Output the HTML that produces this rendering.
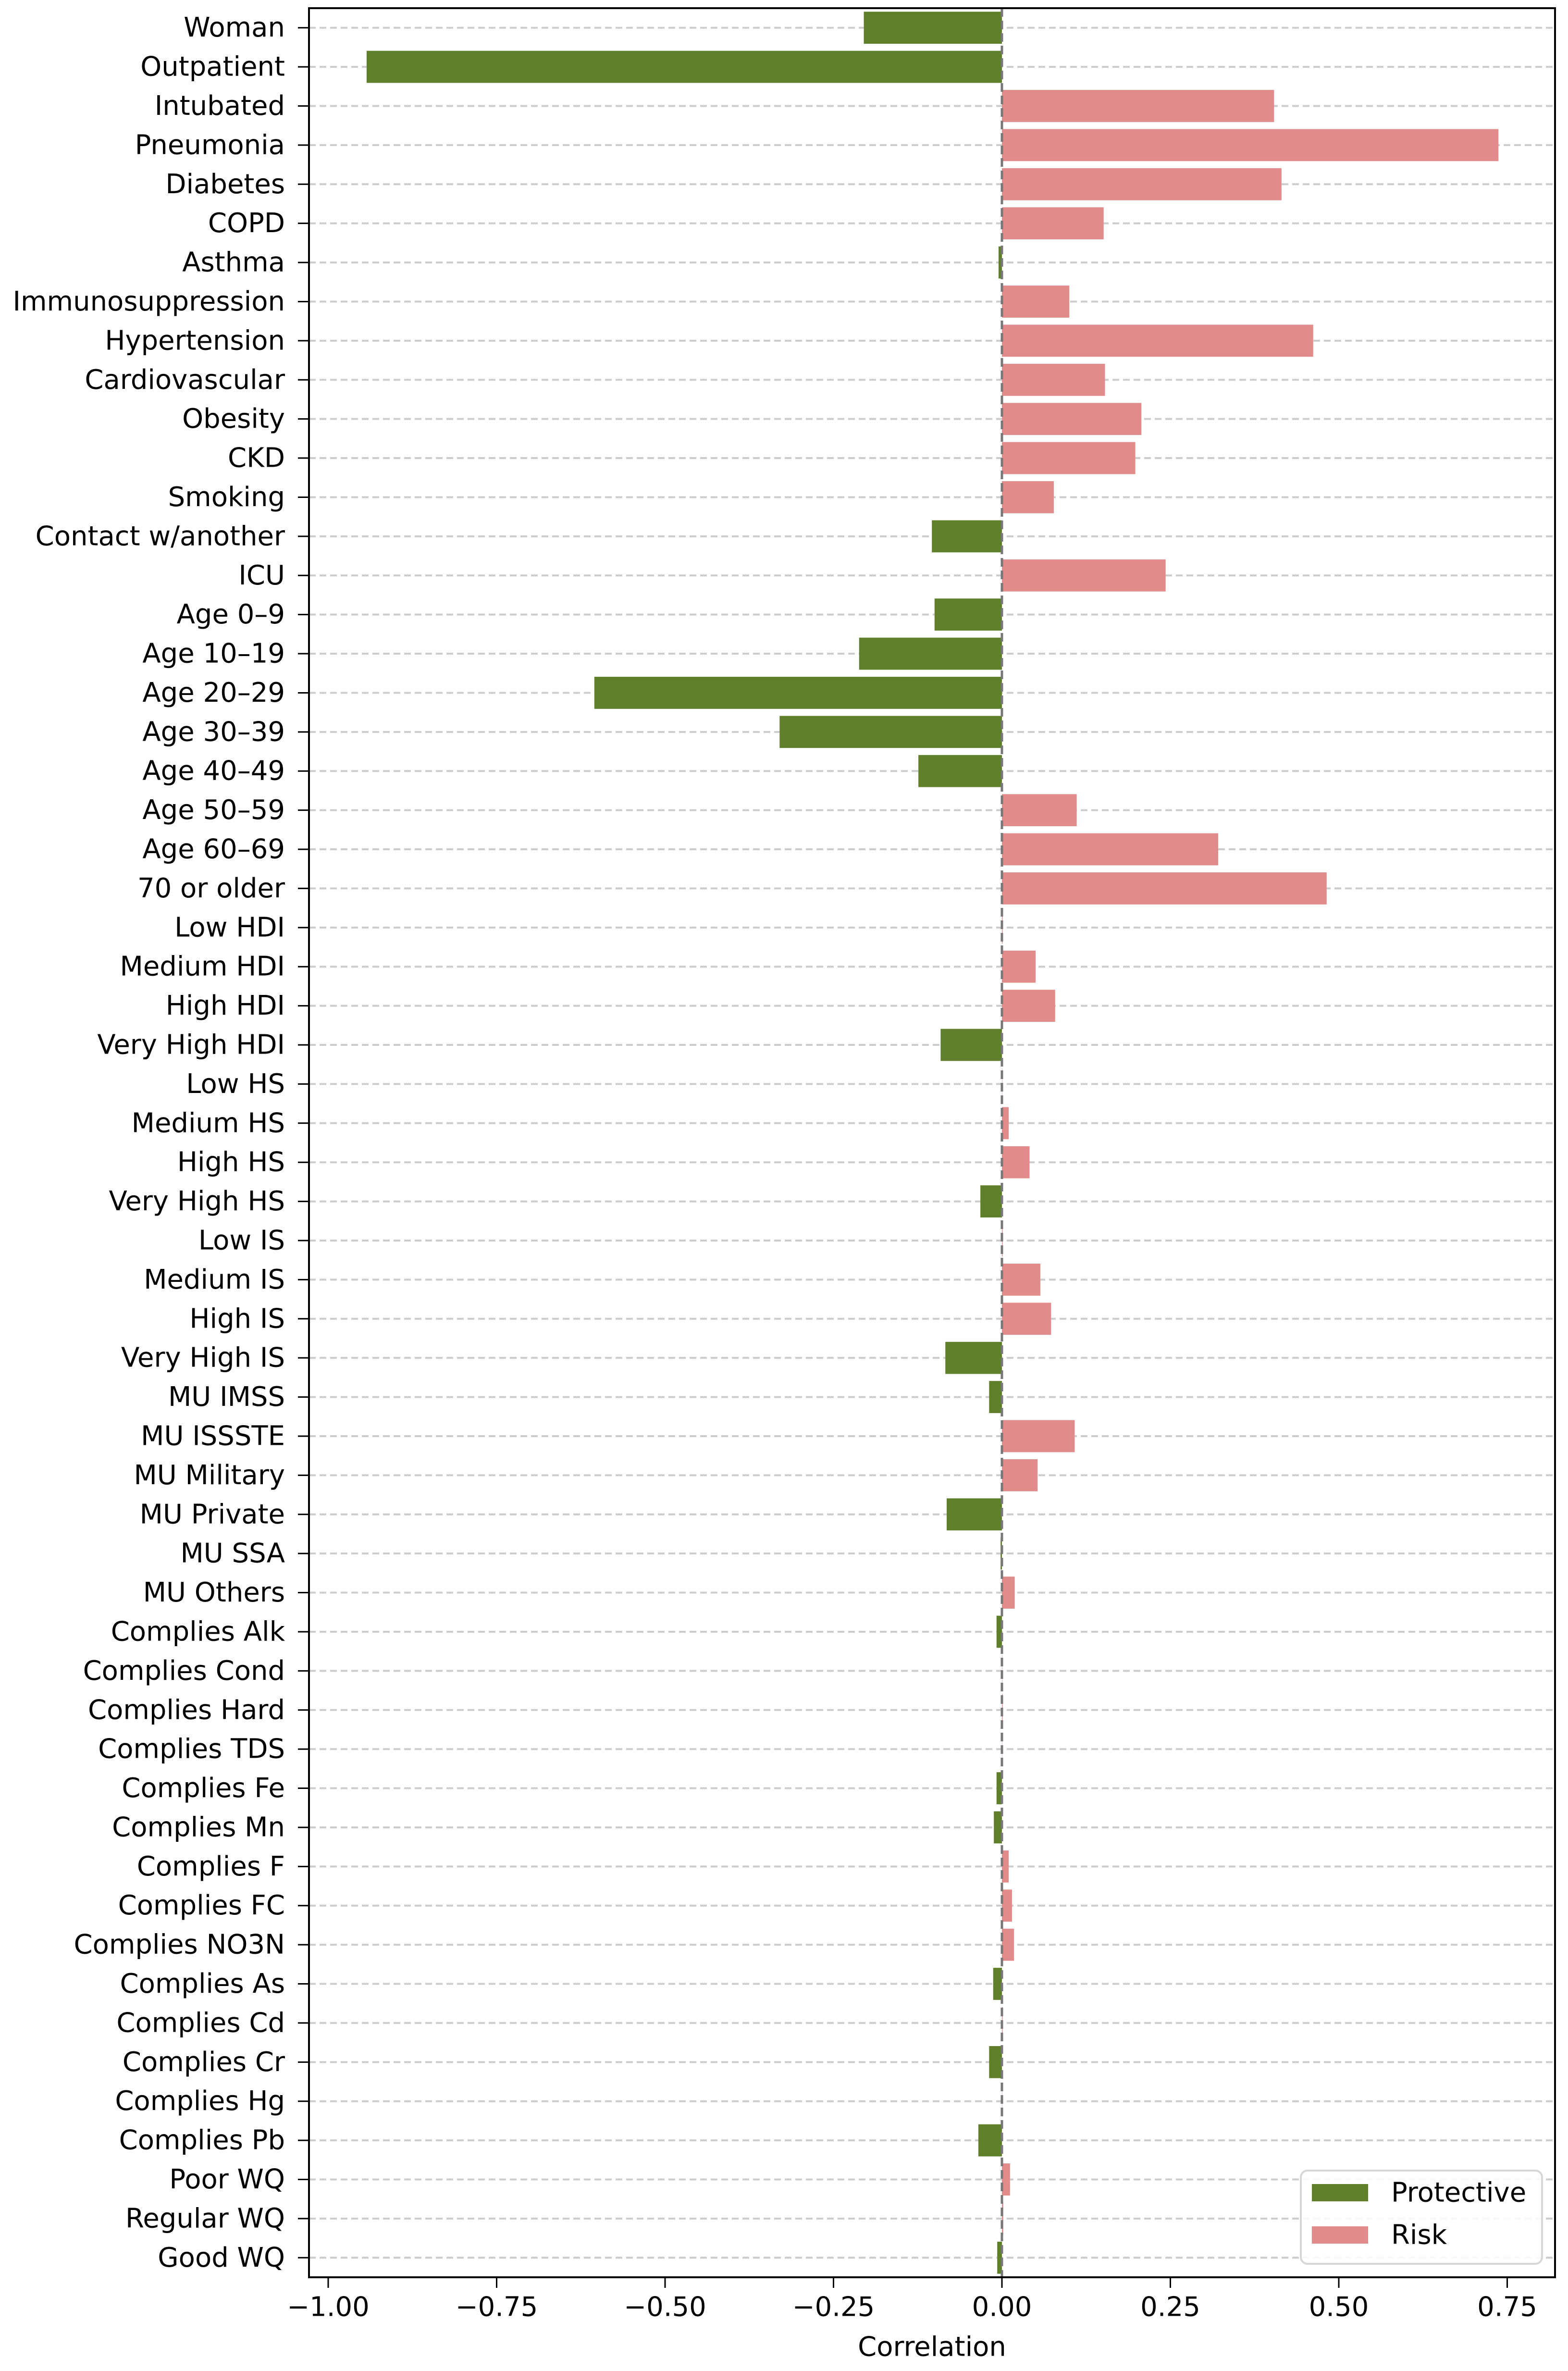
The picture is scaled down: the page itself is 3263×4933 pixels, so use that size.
<!DOCTYPE html>
<html><head><meta charset="utf-8"><style>
html,body{margin:0;padding:0;background:#fff;}
svg text{font-family:"DejaVu Sans","Liberation Sans",sans-serif;}
</style></head><body>
<svg id="chart" width="3263" height="4928" xmlns="http://www.w3.org/2000/svg"></svg>
<script>
const categories = ["Woman","Outpatient","Intubated","Pneumonia","Diabetes","COPD","Asthma","Immunosuppression","Hypertension","Cardiovascular","Obesity","CKD","Smoking","Contact w/another","ICU","Age 0–9","Age 10–19","Age 20–29","Age 30–39","Age 40–49","Age 50–59","Age 60–69","70 or older","Low HDI","Medium HDI","High HDI","Very High HDI","Low HS","Medium HS","High HS","Very High HS","Low IS","Medium IS","High IS","Very High IS","MU IMSS","MU ISSSTE","MU Military","MU Private","MU SSA","MU Others","Complies Alk","Complies Cond","Complies Hard","Complies TDS","Complies Fe","Complies Mn","Complies F","Complies FC","Complies NO3N","Complies As","Complies Cd","Complies Cr","Complies Hg","Complies Pb","Poor WQ","Regular WQ","Good WQ"];
const values = [-0.205,-0.943,0.404,0.737,0.415,0.151,-0.005,0.100,0.462,0.153,0.207,0.198,0.077,-0.104,0.243,-0.100,-0.212,-0.605,-0.330,-0.124,0.111,0.321,0.482,0.001,0.050,0.079,-0.091,0.000,0.010,0.041,-0.032,0.001,0.057,0.073,-0.084,-0.019,0.108,0.053,-0.082,-0.002,0.019,-0.008,0.000,0.001,0.000,-0.008,-0.012,0.010,0.015,0.018,-0.013,0.001,-0.019,0.000,-0.035,0.012,0.002,-0.007];
const xTicks = [-1.00,-0.75,-0.50,-0.25,0.00,0.25,0.50,0.75];
const xTickLabels = ["−1.00","−0.75","−0.50","−0.25","0.00","0.25","0.50","0.75"];
const legendLabels = ["Protective","Risk"];

const NS="http://www.w3.org/2000/svg";
const svg=document.getElementById('chart');
const L=643,R=3236,T=17,B=4738;
const x0=2085, unit=1402;
const xs=v=>x0+v*unit;
const step=(B-T)/categories.length;
const ys=i=>T+step*(i+0.5);
const GREEN="#5f7f2a",PINK="#e18b8b";
function mk(tag,attrs){const e=document.createElementNS(NS,tag);for(const k in attrs)e.setAttribute(k,attrs[k]);svg.appendChild(e);return e;}

// grid lines
categories.forEach((c,i)=>{
  const g=mk('line',{x1:L,x2:R,y1:ys(i),y2:ys(i),stroke:'#cccccc','stroke-width':4,'stroke-dasharray':'14 8'});
  
  
});
// bars
categories.forEach((c,i)=>{
  const v=values[i];
  const h=step*0.82;
  const b=mk('rect',{x:Math.min(xs(0),xs(v)),y:ys(i)-h/2,width:Math.max(Math.abs(xs(v)-xs(0)),0.5),height:h,fill:v<0?GREEN:PINK});
  
  
  const t=mk('text',{x:593,y:ys(i),'font-size':56,'text-anchor':'end','dominant-baseline':'central',fill:'#000'});
  t.textContent=c;
  
  
  const tk=mk('line',{x1:620,x2:L,y1:ys(i),y2:ys(i),stroke:'#000','stroke-width':3});
  
  
});
// zero line
const z=mk('line',{x1:xs(0),x2:xs(0),y1:T,y2:B,stroke:'#777','stroke-width':5,'stroke-dasharray':'18 8'});


// frame
const f=mk('rect',{x:L,y:T,width:R-L,height:B-T,fill:'none',stroke:'#000','stroke-width':4});


// x ticks
xTicks.forEach((v,i)=>{
  const tk=mk('line',{x1:xs(v),x2:xs(v),y1:B,y2:B+22,stroke:'#000','stroke-width':3});
  
  
  const t=mk('text',{x:xs(v),y:4800,'font-size':56,'text-anchor':'middle','dominant-baseline':'central',fill:'#000'});
  t.textContent=xTickLabels[i];
  
  
});
const xt=mk('text',{x:(L+R)/2,y:4883,'font-size':56,'text-anchor':'middle','dominant-baseline':'central',fill:'#000'});
xt.textContent="Correlation";


// legend
const lg=mk('rect',{x:2707,y:4516,width:502,height:194,rx:14,fill:'#fff','fill-opacity':0.85,stroke:'#d6d6d6','stroke-width':4});


[GREEN,PINK].forEach((col,i)=>{
  const cy=4562+i*88;
  const s=mk('rect',{x:2730,y:cy-18,width:117,height:36,fill:col});
  
  
  const t=mk('text',{x:2895,y:cy,'font-size':56,'dominant-baseline':'central',fill:'#000'});
  t.textContent=legendLabels[i];
  
  
});
</script>
</body></html>
